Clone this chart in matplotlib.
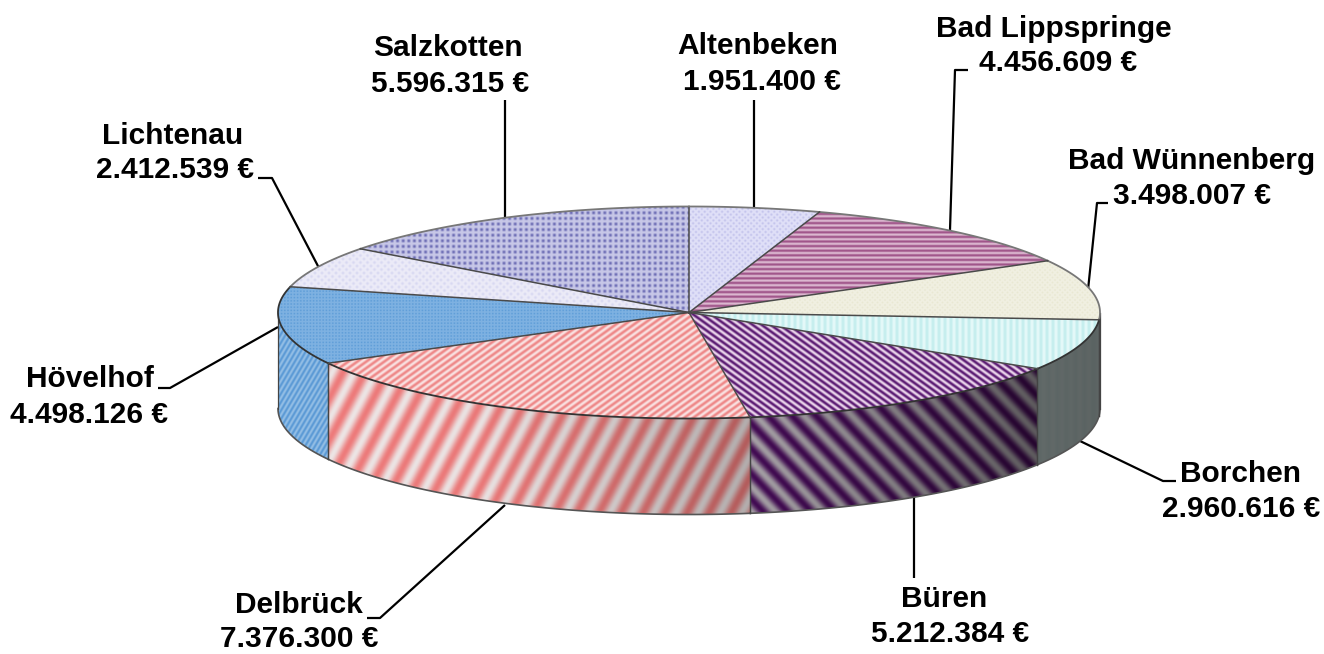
import numpy as np
import matplotlib
matplotlib.use("Agg")
import matplotlib.pyplot as plt
from matplotlib.colors import to_rgb
from matplotlib.patches import Polygon

plt.rcParams['font.family'] = ['Liberation Sans', 'DejaVu Sans']

names = ["Altenbeken", "Bad Lippspringe", "Bad Wünnenberg", "Borchen", "Büren",
         "Delbrück", "Hövelhof", "Lichtenau", "Salzkotten"]
values = [1951400, 4456609, 3498007, 2960616, 5212384, 7376300, 4498126, 2412539, 5596315]

W, H = 1324, 654
CX, CY, RX, RY, DEPTH = 689, 312.5, 411, 106, 96

# (kind, colour a, colour b, period, slope)
top_style = [
    ("stag", "#c4c4ec", "#e0e0f8", 5.8, 0),
    ("hor", "#a0558a", "#dcb8d0", 4.6, 0),
    ("stag", "#e9e8d2", "#f1f0e2", 5.0, 0),
    ("ver", "#c4eeee", "#e6f9f9", 6.0, 0),
    ("diag", "#5a1a72", "#ecd6ec", 9.0, -0.72),
    ("diag", "#ee8787", "#fae2e2", 9.0, 0.72),
    ("grid", "#609ed8", "#7fb2e2", 3.2, 0),
    ("stag", "#d8d8f1", "#ecebf8", 7.0, 0),
    ("grid", "#6c6cb4", "#c8c8e8", 5.6, 0),
]
side_style = [
    ("stag", "#c9c9ee", "#e6e6fa", 5.8, 0),
    ("hor", "#a4588c", "#e6c6dc", 4.6, 0),
    ("ver", "#dcf2f0", "#eafcfa", 6.0, 0),
    ("ver", "#e0f6f4", "#eafcfa", 9.0, 0),
    ("diag", "#5a1070", "#dcd4dc", 24.0, -1.05),
    ("diag", "#ef7c7c", "#eee6e6", 22.0, 1.9),
    ("diag", "#5b9ad6", "#94bfe6", 5.0, 1.7),
    ("stag", "#d8d8f1", "#ecebf8", 7.0, 0),
    ("grid", "#7474ba", "#dcdcf2", 5.6, 0),
]

# leader lines in picture pixels
leaders = [
    [(754, 100), (754, 208)],
    [(968, 70), (955, 70), (950, 230)],
    [(1108, 203), (1097, 203), (1088, 290)],
    [(1080, 441), (1163, 481), (1176, 481)],
    [(914, 498), (914, 578)],
    [(505, 505), (380, 618), (367, 618)],
    [(278, 327), (170, 388), (158, 388)],
    [(319, 268), (272, 178), (258, 178)],
    [(505, 100), (505, 217)],
]
# centre x / y of name line and of value line
label_pos = [
    (758, 46, 762, 82),
    (1054, 29, 1058, 63),
    (1192, 161, 1192, 196),
    (1241, 474, 1241, 509),
    (944, 599, 950, 634),
    (299, 605, 299, 639),
    (90, 379, 89, 415),
    (173, 136, 175, 170),
    (448, 48, 450, 84),
]

X, Y = np.meshgrid(np.arange(W) + 0.5, np.arange(H) + 0.5)


def texture(kind, c1, c2, period, slope):
    c1, c2 = np.array(to_rgb(c1)), np.array(to_rgb(c2))
    k = 2 * np.pi / period
    if kind == "hor":
        t = 0.5 + 0.5 * np.cos(k * Y)
    elif kind == "ver":
        t = 0.5 + 0.5 * np.cos(k * X)
    elif kind == "diag":
        t = 0.5 + 0.5 * np.cos(k * (X + Y / slope))
    elif kind == "grid":
        t = 1 - (0.5 + 0.5 * np.cos(k * X)) * (0.5 + 0.5 * np.cos(k * Y))
    else:
        t = 1 - (0.5 + 0.5 * np.cos(k * (X + Y))) * (0.5 + 0.5 * np.cos(k * (X - Y)))
    return c1 + (c2 - c1) * t[..., None]


def rim(a0, a1, n=120):
    a = np.radians(np.linspace(a0, a1, n))
    return CX + RX * np.sin(a), CY - RY * np.cos(a)


def draw_textured(ax, pts, img, z):
    poly = Polygon(pts, closed=True, facecolor=img.mean(axis=(0, 1)), edgecolor="none", zorder=z)
    ax.add_patch(poly)
    im = ax.imshow(img, extent=(0, W, H, 0), interpolation="nearest", aspect="auto", zorder=z + 0.1)
    im.set_clip_path(poly)


fig = plt.figure(figsize=(W / 100, H / 100), dpi=100)
ax = fig.add_axes([0, 0, 1, 1])

shade = np.interp(X, [277, 480, 750, 1040, 1101], [1, 0.98, 0.75, 0.42, 0.40])[..., None]
edges = np.concatenate([[0], np.cumsum(values)]) / sum(values) * 360

for i in range(len(values)):
    a0, a1 = edges[i], edges[i + 1]
    s0, s1 = max(a0, 90), min(a1, 270)
    if s1 > s0:
        x, y = rim(s0, s1)
        pts = np.r_[np.c_[x, y], np.c_[x[::-1], y[::-1] + DEPTH]]
        draw_textured(ax, pts, texture(*side_style[i]) * shade, 1)
        ax.plot(x, y + DEPTH, color="#555555", lw=1.2, zorder=2)
        ax.plot([x[-1], x[-1]], [y[-1], y[-1] + DEPTH], color="#444444", lw=0.9, zorder=2)
        ax.plot([x[0], x[0]], [y[0], y[0] + DEPTH], color="#444444", lw=0.9, zorder=2)

for i in range(len(values)):
    x, y = rim(edges[i], edges[i + 1])
    pts = np.r_[[(CX, CY)], np.c_[x, y]]
    draw_textured(ax, pts, texture(*top_style[i]), 3)
    front = 90 < (edges[i] + edges[i + 1]) / 2 < 270
    ax.plot(x, y, color="#333333" if front else "#777777", lw=1.3, zorder=4)
    ax.plot([CX, x[0]], [CY, y[0]], color="#4a4a4a", lw=1.1, zorder=4)

for path in leaders:
    xs, ys = zip(*path)
    ax.plot(xs, ys, color="black", lw=1.6, zorder=0.5, solid_capstyle="butt")

for name, value, (nx, ny, vx, vy) in zip(names, values, label_pos):
    txt = f"{value:,}".replace(",", ".") + " €"
    ax.text(nx, ny, name, ha="center", va="center", fontsize=21.5, fontweight="bold", color="black")
    ax.text(vx, vy, txt, ha="center", va="center", fontsize=21.5, fontweight="bold", color="black")

ax.set_xlim(0, W)
ax.set_ylim(H, 0)
ax.axis("off")
fig.savefig("out.png", dpi=100, facecolor="white")
